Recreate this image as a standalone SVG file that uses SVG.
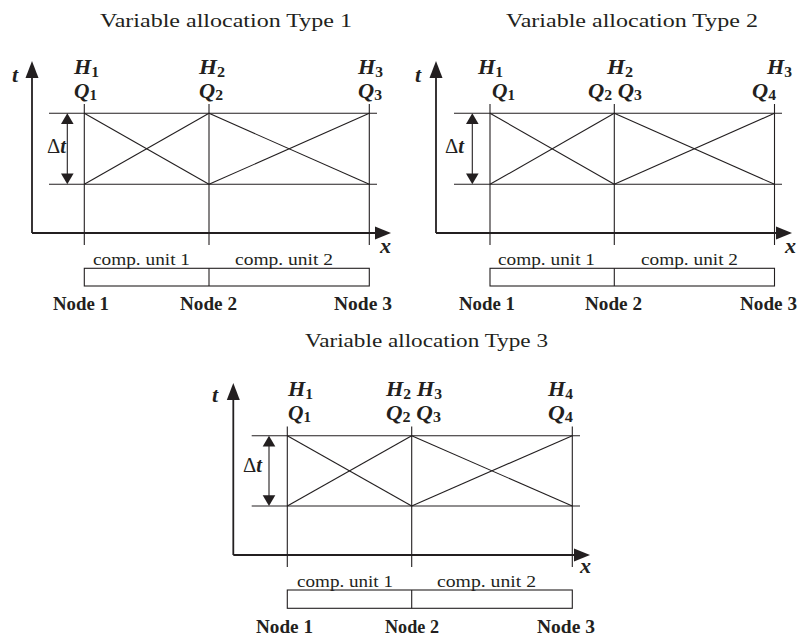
<svg xmlns="http://www.w3.org/2000/svg" width="798" height="639" viewBox="0 0 798 639">
<style>
text{font-family:"Liberation Serif","Times New Roman",Times,"Nimbus Roman",serif;fill:#231f20}
.ln{stroke:#231f20;stroke-width:1.1;fill:none}
.ax{stroke:#231f20;stroke-width:1.8;fill:none}
.ah{fill:#231f20;stroke:none}
.title{font-size:19px}
.cu{font-size:16.5px}
.nd{font-size:18.5px;font-weight:bold}
.var{font-size:20px;font-weight:bold;font-style:italic}
.axl{font-size:22px;font-weight:bold;font-style:italic}
.dt{font-size:21px}
.sub{font-size:14px;font-style:normal}
</style>
<rect width="798" height="639" fill="#ffffff"/>

<!-- Panel 1 -->
<g id="panel1">
  <text class="title" x="100" y="27" textLength="252" lengthAdjust="spacingAndGlyphs">Variable allocation Type 1</text>
  <g id="p1-connectors">
    <line class="ax" x1="32" y1="233" x2="32" y2="76"/>
    <polygon class="ah" points="32,61 25.5,78 38.5,78"/>
    <line class="ax" x1="32" y1="233" x2="376" y2="233"/>
    <polygon class="ah" points="391,233 375,226.5 375,239.5"/>
    <line class="ln" x1="84.3" y1="104" x2="84.3" y2="245"/>
    <line class="ln" x1="209" y1="104" x2="209" y2="245"/>
    <line class="ln" x1="369.3" y1="104" x2="369.3" y2="245"/>
    <line class="ln" x1="49" y1="113.3" x2="377" y2="113.3"/>
    <line class="ln" x1="49" y1="184.3" x2="377" y2="184.3"/>
    <line class="ln" x1="84.3" y1="113.3" x2="209" y2="184.3"/>
    <line class="ln" x1="84.3" y1="184.3" x2="209" y2="113.3"/>
    <line class="ln" x1="209" y1="184.3" x2="369.3" y2="113.3"/>
    <line class="ln" x1="209" y1="113.3" x2="369.3" y2="184.3"/>
    <line class="ln" x1="67.3" y1="122" x2="67.3" y2="176"/>
    <polygon class="ah" points="67.3,113.3 61,124 73.6,124"/>
    <polygon class="ah" points="67.3,184.3 61,173.6 73.6,173.6"/>
  </g>
  <text class="axl" x="12" y="82">t</text>
  <text class="axl" x="380" y="253">x</text>
  <text class="dt" x="47" y="153" textLength="19" lengthAdjust="spacingAndGlyphs">Δ<tspan font-weight="bold" font-style="italic">t</tspan></text>
  <text class="var" x="74" y="74" textLength="25" lengthAdjust="spacingAndGlyphs">H<tspan class="sub" dy="3">1</tspan></text>
  <text class="var" x="74" y="98" textLength="23" lengthAdjust="spacingAndGlyphs">Q<tspan class="sub" dy="2">1</tspan></text>
  <text class="var" x="199" y="74" textLength="26" lengthAdjust="spacingAndGlyphs">H<tspan class="sub" dy="3">2</tspan></text>
  <text class="var" x="199" y="98" textLength="24" lengthAdjust="spacingAndGlyphs">Q<tspan class="sub" dy="2">2</tspan></text>
  <text class="var" x="358" y="74" textLength="25" lengthAdjust="spacingAndGlyphs">H<tspan class="sub" dy="3">3</tspan></text>
  <text class="var" x="358" y="98" textLength="24" lengthAdjust="spacingAndGlyphs">Q<tspan class="sub" dy="2">3</tspan></text>
  <g id="p1-units">
    <rect class="ln" x="84.3" y="268.3" width="285" height="17.7"/>
    <line class="ln" x1="209" y1="268.3" x2="209" y2="286"/>
    <text class="cu" x="93" y="265" textLength="97" lengthAdjust="spacingAndGlyphs">comp. unit 1</text>
    <text class="cu" x="235" y="265" textLength="98" lengthAdjust="spacingAndGlyphs">comp. unit 2</text>
  </g>
  <text class="nd" x="53" y="310" textLength="56" lengthAdjust="spacingAndGlyphs">Node 1</text>
  <text class="nd" x="180" y="310" textLength="57" lengthAdjust="spacingAndGlyphs">Node 2</text>
  <text class="nd" x="334" y="310" textLength="58" lengthAdjust="spacingAndGlyphs">Node 3</text>
</g>

<!-- Panel 2 -->
<g id="panel2">
  <text class="title" x="506" y="27" textLength="252" lengthAdjust="spacingAndGlyphs">Variable allocation Type 2</text>
  <g id="p2-connectors">
    <line class="ax" x1="436" y1="233" x2="436" y2="76"/>
    <polygon class="ah" points="436,61 429.5,78 442.5,78"/>
    <line class="ax" x1="436" y1="233" x2="777" y2="233"/>
    <polygon class="ah" points="792,233 776,226.5 776,239.5"/>
    <line class="ln" x1="490" y1="104" x2="490" y2="245"/>
    <line class="ln" x1="614.3" y1="104" x2="614.3" y2="245"/>
    <line class="ln" x1="774.5" y1="104" x2="774.5" y2="245"/>
    <line class="ln" x1="454" y1="113.3" x2="782" y2="113.3"/>
    <line class="ln" x1="454" y1="184.3" x2="782" y2="184.3"/>
    <line class="ln" x1="490" y1="113.3" x2="614.3" y2="184.3"/>
    <line class="ln" x1="490" y1="184.3" x2="614.3" y2="113.3"/>
    <line class="ln" x1="614.3" y1="184.3" x2="774.5" y2="113.3"/>
    <line class="ln" x1="614.3" y1="113.3" x2="774.5" y2="184.3"/>
    <line class="ln" x1="472.3" y1="122" x2="472.3" y2="176"/>
    <polygon class="ah" points="472.3,113.3 466,124 478.6,124"/>
    <polygon class="ah" points="472.3,184.3 466,173.6 478.6,173.6"/>
  </g>
  <text class="axl" x="415" y="82">t</text>
  <text class="axl" x="785" y="253">x</text>
  <text class="dt" x="445" y="153" textLength="19" lengthAdjust="spacingAndGlyphs">Δ<tspan font-weight="bold" font-style="italic">t</tspan></text>
  <text class="var" x="478" y="74" textLength="25" lengthAdjust="spacingAndGlyphs">H<tspan class="sub" dy="3">1</tspan></text>
  <text class="var" x="492" y="98" textLength="23" lengthAdjust="spacingAndGlyphs">Q<tspan class="sub" dy="2">1</tspan></text>
  <text class="var" x="607" y="74" textLength="26" lengthAdjust="spacingAndGlyphs">H<tspan class="sub" dy="3">2</tspan></text>
  <text class="var" x="588" y="98" textLength="54" lengthAdjust="spacingAndGlyphs">Q<tspan class="sub" dy="2">2</tspan><tspan dy="-2"> Q</tspan><tspan class="sub" dy="2">3</tspan></text>
  <text class="var" x="767" y="74" textLength="25" lengthAdjust="spacingAndGlyphs">H<tspan class="sub" dy="3">3</tspan></text>
  <text class="var" x="752" y="98" textLength="24" lengthAdjust="spacingAndGlyphs">Q<tspan class="sub" dy="2">4</tspan></text>
  <g id="p2-units">
    <rect class="ln" x="490" y="268.3" width="284.5" height="17.7"/>
    <line class="ln" x1="614.3" y1="268.3" x2="614.3" y2="286"/>
    <text class="cu" x="498" y="265" textLength="97" lengthAdjust="spacingAndGlyphs">comp. unit 1</text>
    <text class="cu" x="641" y="265" textLength="97" lengthAdjust="spacingAndGlyphs">comp. unit 2</text>
  </g>
  <text class="nd" x="459" y="310" textLength="56" lengthAdjust="spacingAndGlyphs">Node 1</text>
  <text class="nd" x="585" y="310" textLength="57" lengthAdjust="spacingAndGlyphs">Node 2</text>
  <text class="nd" x="740" y="310" textLength="57" lengthAdjust="spacingAndGlyphs">Node 3</text>
</g>

<!-- Panel 3 -->
<g id="panel3">
  <text class="title" x="305" y="347" textLength="243" lengthAdjust="spacingAndGlyphs">Variable allocation Type 3</text>
  <g id="p3-connectors">
    <line class="ax" x1="233.3" y1="555" x2="233.3" y2="398"/>
    <polygon class="ah" points="233.3,383 226.8,400 239.8,400"/>
    <line class="ax" x1="233.3" y1="555" x2="575" y2="555"/>
    <polygon class="ah" points="590,555 574,548.5 574,561.5"/>
    <line class="ln" x1="287.3" y1="426.5" x2="287.3" y2="567"/>
    <line class="ln" x1="411.7" y1="426.5" x2="411.7" y2="567"/>
    <line class="ln" x1="572.3" y1="426.5" x2="572.3" y2="567"/>
    <line class="ln" x1="251.7" y1="435.7" x2="580" y2="435.7"/>
    <line class="ln" x1="251.7" y1="506" x2="580" y2="506"/>
    <line class="ln" x1="287.3" y1="435.7" x2="411.7" y2="506"/>
    <line class="ln" x1="287.3" y1="506" x2="411.7" y2="435.7"/>
    <line class="ln" x1="411.7" y1="506" x2="572.3" y2="435.7"/>
    <line class="ln" x1="411.7" y1="435.7" x2="572.3" y2="506"/>
    <line class="ln" x1="269" y1="444" x2="269" y2="498"/>
    <polygon class="ah" points="269,435.7 262.7,446.4 275.3,446.4"/>
    <polygon class="ah" points="269,506 262.7,495.3 275.3,495.3"/>
  </g>
  <text class="axl" x="212" y="402">t</text>
  <text class="axl" x="580" y="573">x</text>
  <text class="dt" x="243" y="472" textLength="19" lengthAdjust="spacingAndGlyphs">Δ<tspan font-weight="bold" font-style="italic">t</tspan></text>
  <text class="var" x="288" y="396" textLength="25" lengthAdjust="spacingAndGlyphs">H<tspan class="sub" dy="3">1</tspan></text>
  <text class="var" x="288" y="420" textLength="23" lengthAdjust="spacingAndGlyphs">Q<tspan class="sub" dy="2">1</tspan></text>
  <text class="var" x="386" y="396" textLength="56" lengthAdjust="spacingAndGlyphs">H<tspan class="sub" dy="3">2</tspan><tspan dy="-3"> H</tspan><tspan class="sub" dy="3">3</tspan></text>
  <text class="var" x="386" y="420" textLength="55" lengthAdjust="spacingAndGlyphs">Q<tspan class="sub" dy="2">2</tspan><tspan dy="-2"> Q</tspan><tspan class="sub" dy="2">3</tspan></text>
  <text class="var" x="548" y="396" textLength="25" lengthAdjust="spacingAndGlyphs">H<tspan class="sub" dy="3">4</tspan></text>
  <text class="var" x="548" y="420" textLength="25" lengthAdjust="spacingAndGlyphs">Q<tspan class="sub" dy="2">4</tspan></text>
  <g id="p3-units">
    <rect class="ln" x="287.3" y="590" width="285" height="18.3"/>
    <line class="ln" x1="411.7" y1="590" x2="411.7" y2="608.3"/>
    <text class="cu" x="297" y="587" textLength="96" lengthAdjust="spacingAndGlyphs">comp. unit 1</text>
    <text class="cu" x="437" y="587" textLength="99" lengthAdjust="spacingAndGlyphs">comp. unit 2</text>
  </g>
  <text class="nd" x="256" y="633" textLength="57" lengthAdjust="spacingAndGlyphs">Node 1</text>
  <text class="nd" x="385" y="633" textLength="54" lengthAdjust="spacingAndGlyphs">Node 2</text>
  <text class="nd" x="537" y="633" textLength="58" lengthAdjust="spacingAndGlyphs">Node 3</text>
</g>
</svg>
